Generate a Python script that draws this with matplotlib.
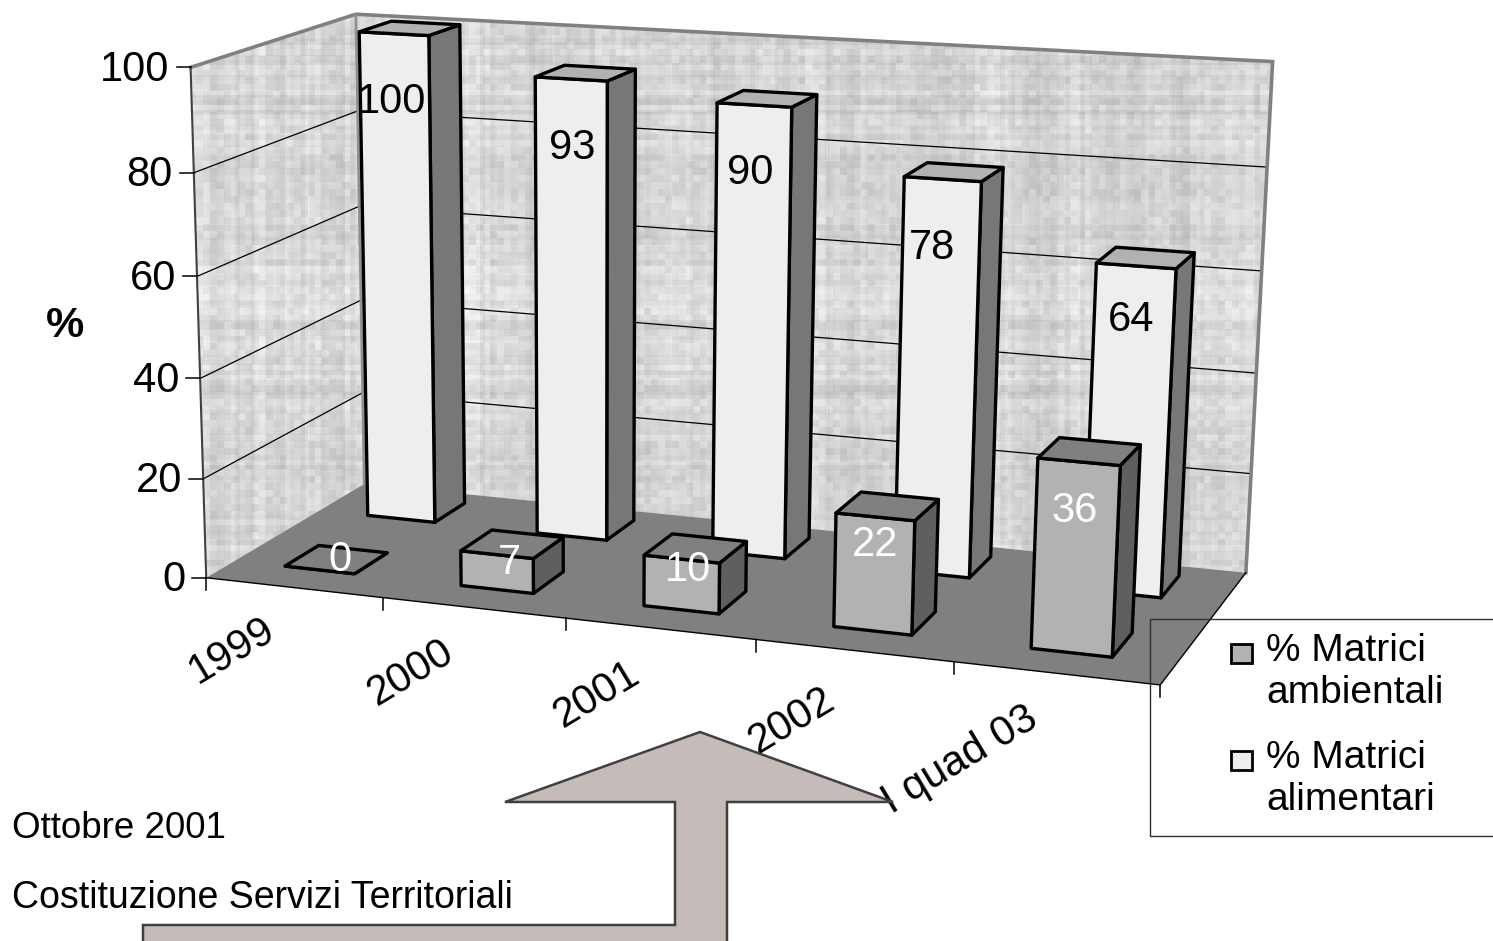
import numpy as np
import matplotlib
matplotlib.use("Agg")
import matplotlib.pyplot as plt
from matplotlib.patches import Polygon, Rectangle

plt.rcParams['font.family'] = ['Liberation Sans', 'DejaVu Sans']

years = ['1999', '2000', '2001', '2002', 'I quad 03']
matrici_ambientali = [0, 7, 10, 22, 36]
matrici_alimentari = [100, 93, 90, 78, 64]
y_ticks = [0, 20, 40, 60, 80, 100]
legend_labels = ['% Matrici\nambientali', '% Matrici\nalimentari']

W, H = 1493, 941

# calibration of the fake 3d box: (category, depth, percent) -> pixel
calib = [
    (0, 0, 0, 210, 576), (5, 0, 0, 1160, 687), (0, 1, 0, 360, 486),
    (5, 1, 0, 1247, 570), (0, 0, 100, 187, 67), (0, 1, 100, 360, 14),
    (5, 1, 100, 1272, 62),
    (1, 0, 0, 385, 597), (2, 0, 0, 566, 618),
    (3, 0, 0, 757, 640), (4, 0, 0, 953, 663), (0, 0, 20, 205, 479),
    (0, 0, 40, 201, 377), (0, 0, 60, 196, 275), (0, 0, 80, 191, 173),
    (0.29, 0.7, 0, 369, 515), (0.69, 0.7, 0, 437, 523),
    (0.29, 0.7, 100, 355, 34), (0.69, 0.7, 100, 425, 38),
    (4.69, 0.7, 0, 1159, 601), (4.69, 0.7, 64, 1172, 273), (4.29, 0.7, 64, 1092, 268),
    (4.29, 0.17, 0, 1029, 652), (4.69, 0.17, 0, 1111, 659),
    (4.29, 0.17, 36, 1035, 462), (4.69, 0.17, 36, 1117, 469),
    (0.29, 0.17, 0, 288, 566), (0.69, 0.17, 0, 358, 574),
]
A, b = [], []
for n, (cx, cd, cz, px, py) in enumerate(calib):
    w = 8.0 if n < 7 else 1.0
    A.append([w * q for q in [cx, cd, cz, 1, 0, 0, 0, 0, -px * cx, -px * cd, -px * cz]])
    A.append([w * q for q in [0, 0, 0, 0, cx, cd, cz, 1, -py * cx, -py * cd, -py * cz]])
    b += [w * px, w * py]
m = np.linalg.lstsq(np.array(A, float), np.array(b, float), rcond=None)[0]
M = np.append(m, 1).reshape(3, 4)


def proj(x, d, z):
    v = M @ np.array([x, d, z, 1.0])
    return v[0] / v[2], v[1] / v[2]


def wall_texture(h, w):
    # woven grey look, no meaning, only to mimic the picture fill
    def hash_seq(n, s):
        return (np.sin(np.arange(n) * 12.9898 + s) * 43758.5453) % 1
    rows = np.repeat(hash_seq(h // 5 + 2, 1.3), 5)[:h] - 0.5
    cols = np.repeat(hash_seq(w // 5 + 2, 4.1), 5)[:w] - 0.5
    rows2 = np.repeat(hash_seq(h // 19 + 2, 2.2), 19)[:h] - 0.5
    cols2 = np.repeat(hash_seq(w // 23 + 2, 7.7), 23)[:w] - 0.5
    cells = np.repeat(np.repeat((np.sin(np.arange(h // 7 + 2)[:, None] * 78.233
                                        + np.arange(w // 7 + 2)[None, :] * 12.9898)
                                 * 43758.5453) % 1 - 0.5, 7, axis=0), 7, axis=1)[:h, :w]
    return 0.835 + 0.06 * rows[:, None] + 0.06 * cols[None, :] \
        + 0.04 * rows2[:, None] + 0.04 * cols2[None, :] + 0.07 * cells


fig = plt.figure(figsize=(W / 100, H / 100), dpi=100)
ax = fig.add_axes([0, 0, 1, 1])
ax.set_xlim(0, W)
ax.set_ylim(H, 0)
ax.axis('off')

left_wall = [proj(0, 0, 0), proj(0, 1, 0), proj(0, 1, 100), proj(0, 0, 100)]
back_wall = [proj(0, 1, 0), proj(5, 1, 0), proj(5, 1, 100), proj(0, 1, 100)]
floor = [proj(0, 0, 0), proj(5, 0, 0), proj(5, 1, 0), proj(0, 1, 0)]

tex = ax.imshow(wall_texture(H, W), cmap='gray', vmin=0, vmax=1, extent=(0, W, H, 0),
                interpolation='bilinear', zorder=1)
wall_shape = Polygon(left_wall[:2] + back_wall[1:3] + left_wall[2:], transform=ax.transData)
tex.set_clip_path(wall_shape)
ax.set_xlim(0, W)
ax.set_ylim(H, 0)

ax.add_patch(Polygon(floor, fc='#808080', ec='none', zorder=2))

# gridlines
for t in y_ticks[1:-1]:
    pts = [proj(0, 0, t), proj(0, 1, t), proj(5, 1, t)]
    ax.plot(*zip(*pts), color='black', lw=0.9, zorder=3)

# wall borders
ax.plot(*zip(proj(0, 0, 100), proj(0, 1, 100), proj(5, 1, 100), proj(5, 1, 0)),
        color='#808080', lw=2.6, zorder=3, solid_joinstyle='miter')
ax.plot(*zip(proj(0, 1, 0), proj(0, 1, 100)), color='#909090', lw=2, zorder=3)
ax.plot(*zip(proj(0, 0, 0), proj(0, 0, 100)), color='#404040', lw=1.5, zorder=3)

# floor edges
ax.plot(*zip(proj(0, 0, 0), proj(5, 0, 0), proj(5, 1, 0)), color='black', lw=1.0, zorder=3)

# axis ticks
for t in y_ticks:
    px, py = proj(0, 0, t)
    ax.plot([px - 14, px], [py, py], color='black', lw=1.1, zorder=3)
    ax.text(px - 21, py - 2, str(t), ha='right', va='center_baseline', fontsize=30, zorder=6)

for i in range(len(years) + 1):
    px, py = proj(i, 0, 0)
    ax.plot([px, px], [py, py + 12], color='black', lw=1.1, zorder=3)

label_pos = [(232, 651), (411, 673), (597, 695), (792, 721), (960, 760)]
for name, (lx, ly) in zip(years, label_pos):
    ax.text(lx, ly, name, rotation=31, rotation_mode='anchor', ha='center', va='center',
            fontsize=30, zorder=4)

ax.text(65, 326, '%', fontsize=31, fontweight='bold', ha='center', va='center', zorder=6)


def bar3d(i, d0, d1, val, front, top, side, zo):
    x0, x1 = i + 0.29, i + 0.69
    f = [proj(x0, d0, 0), proj(x1, d0, 0), proj(x1, d0, val), proj(x0, d0, val)]
    s = [proj(x1, d0, 0), proj(x1, d1, 0), proj(x1, d1, val), proj(x1, d0, val)]
    t = [proj(x0, d0, val), proj(x1, d0, val), proj(x1, d1, val), proj(x0, d1, val)]
    for poly, col in ((s, side), (f, front), (t, top)):
        ax.add_patch(Polygon(poly, fc=col, ec='black', lw=2.4, joinstyle='round', zorder=zo))


# label spots of the value labels, they do not follow a simple rule in the source
ali_label_pos = [(392, 102), (572, 148), (750, 173), (932, 248), (1131, 320)]
amb_label_pos = [(340, 560), (509, 563), (688, 570), (875, 545), (1075, 511)]

# back row first, then the front row over it
for i, v in enumerate(matrici_alimentari):
    bar3d(i, 0.70, 0.91, v, '#eeeeee', '#b2b2b2', '#777777', 4 + i * 0.01)
    tx, ty = ali_label_pos[i]
    ax.text(tx, ty, str(v), ha='center', va='center', fontsize=30, color='black', zorder=5)

for i, v in enumerate(matrici_ambientali):
    bar3d(i, 0.17, 0.38, v, '#b2b2b2', '#808080', '#5f5f5f', 5.2 + i * 0.01)
    tx, ty = amb_label_pos[i]
    ax.text(tx, ty, str(v), ha='center', va='center', fontsize=30, color='white', zorder=6)

# legend
ax.plot([W + 5, 1150, 1150, W + 5], [619, 619, 836, 836], color='#303030', lw=1.0, zorder=7)
ax.add_patch(Rectangle((1231, 644), 21, 19, fc='#b2b2b2', ec='black', lw=2, zorder=7))
ax.add_patch(Rectangle((1231, 751), 21, 19, fc='#eeeeee', ec='black', lw=2, zorder=7))
ax.text(1266, 672, legend_labels[0], fontsize=28, linespacing=1.22, va='center', ha='left', zorder=7)
ax.text(1266, 779, legend_labels[1], fontsize=28, linespacing=1.22, va='center', ha='left', zorder=7)

# annotation arrow
arrow = [(143, 945), (143, 925), (675, 925), (675, 802), (505, 802), (700, 732),
         (893, 802), (727, 802), (727, 945)]
ax.add_patch(Polygon(arrow, fc='#c5bbb8', ec='#404040', lw=1.8, zorder=8, clip_on=True))
ax.text(12, 829, 'Ottobre 2001', fontsize=26.5, va='center', ha='left', zorder=9)
ax.text(12, 898, 'Costituzione Servizi Territoriali', fontsize=27, va='center', ha='left', zorder=9)

fig.savefig('out.png', dpi=100)
